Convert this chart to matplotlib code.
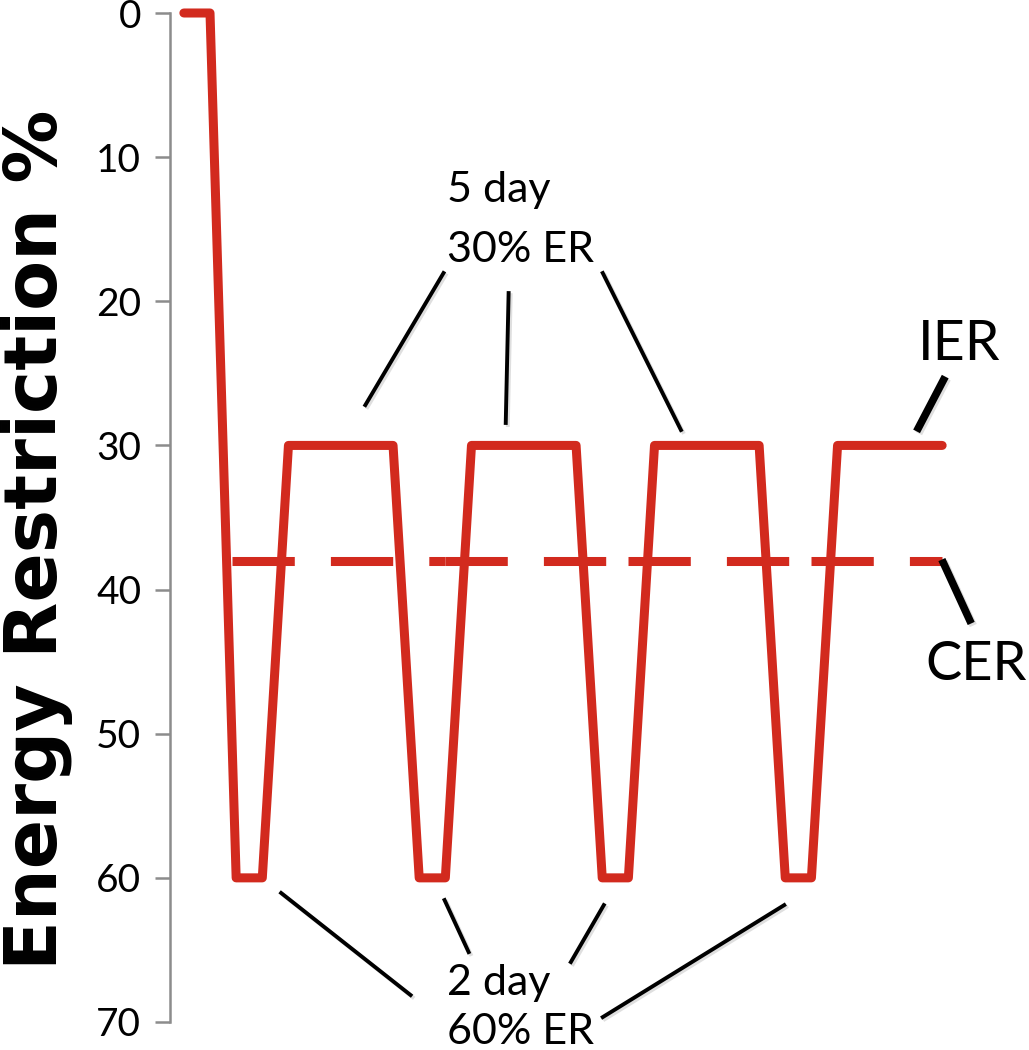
import numpy as np
import matplotlib
matplotlib.use("Agg")
import matplotlib.pyplot as plt
import matplotlib.patheffects as pe

plt.rcParams['font.family'] = ['Lato', 'DejaVu Sans']

# intermittent energy restriction (days, % restriction)
ier_x = [0, 1, 2, 3, 4, 8, 9, 10, 11, 15, 16, 17, 18, 22, 23, 24, 25, 29]
ier_y = [0, 0, 60, 60, 30, 30, 60, 60, 30, 30, 60, 60, 30, 30, 60, 60, 30, 30]

# continuous energy restriction (weekly points, dashes restart at each one)
cer_x = [1.85, 10, 17, 24, 29]
cer_y = [38, 38, 38, 38, 38]

y_ticks = [0, 10, 20, 30, 40, 50, 60, 70]

# leader lines for the annotations: (x0, y0, x1, y1)
five_day_leaders = [(9.93, 18.04, 6.94, 27.2),
                    (12.42, 19.43, 12.31, 28.44),
                    (16.02, 18.04, 19.01, 28.93)]
two_day_leaders = [(3.72, 61.05, 8.67, 68.13),
                   (9.97, 61.54, 10.89, 65.15),
                   (16.06, 61.89, 14.80, 65.84),
                   (22.96, 61.89, 16.02, 69.66)]
ier_leader = (29.05, 25.46, 28.09, 28.79)
cer_leader = (29.05, 38.16, 30.05, 42.11)

red = '#D22A1E'
gray = '#8C8C8C'

fig = plt.figure(figsize=(10.29, 10.50), dpi=100)
ax = fig.add_axes([170 / 1029, 1 - 1022 / 1050, 780 / 1029, 1009 / 1050])

ax.plot(ier_x, ier_y, color=red, lw=6.5, solid_capstyle='round',
        solid_joinstyle='round', clip_on=False, zorder=3)
for i in range(len(cer_x) - 1):
    ax.plot(cer_x[i:i + 2], cer_y[i:i + 2], color=red, lw=6.5,
            linestyle=(0, (6.9, 4.0)), dash_capstyle='butt',
            clip_on=False, zorder=3)

ax.set_xlim(-0.53, 29.3)
ax.set_ylim(70, 0)
ax.set_yticks(y_ticks)
ax.set_xticks([])

for s in ['top', 'right', 'bottom']:
    ax.spines[s].set_visible(False)
ax.spines['left'].set_color(gray)
ax.spines['left'].set_linewidth(1.8)
ax.tick_params(axis='y', length=10.8, width=1.8, color=gray, pad=10,
               labelsize=28, labelcolor='black')

shadow = [pe.SimpleLineShadow(offset=(1.5, -1.5), shadow_color='gray', alpha=0.25),
          pe.Normal()]

for x0, y0, x1, y1 in five_day_leaders + two_day_leaders:
    ax.plot([x0, x1], [y0, y1], color='black', lw=2.8, clip_on=False,
            path_effects=shadow, zorder=4)
for x0, y0, x1, y1 in [ier_leader, cer_leader]:
    ax.plot([x0, x1], [y0, y1], color='black', lw=5.5, clip_on=False,
            path_effects=shadow, zorder=4)

ax.text(10.08, 12.28, '5 day', fontsize=31, ha='left', va='center')
ax.text(10.08, 16.44, '30% ER', fontsize=31, ha='left', va='center')
ax.text(10.08, 67.3, '2 day', fontsize=31, ha='left', va='center')
ax.text(10.08, 70.7, '60% ER', fontsize=31, ha='left', va='center')
ax.text(28.09, 24.07, 'IER', fontsize=40, ha='left', va='baseline')
ax.text(28.35, 46.3, 'CER', fontsize=39, ha='left', va='baseline')

fig.text(37 / 1029, 1 - 540 / 1050, 'Energy Restriction %', rotation=90,
         fontsize=52.5, fontweight='bold', family='DejaVu Sans',
         ha='center', va='center')

fig.savefig('out.png', dpi=100)
